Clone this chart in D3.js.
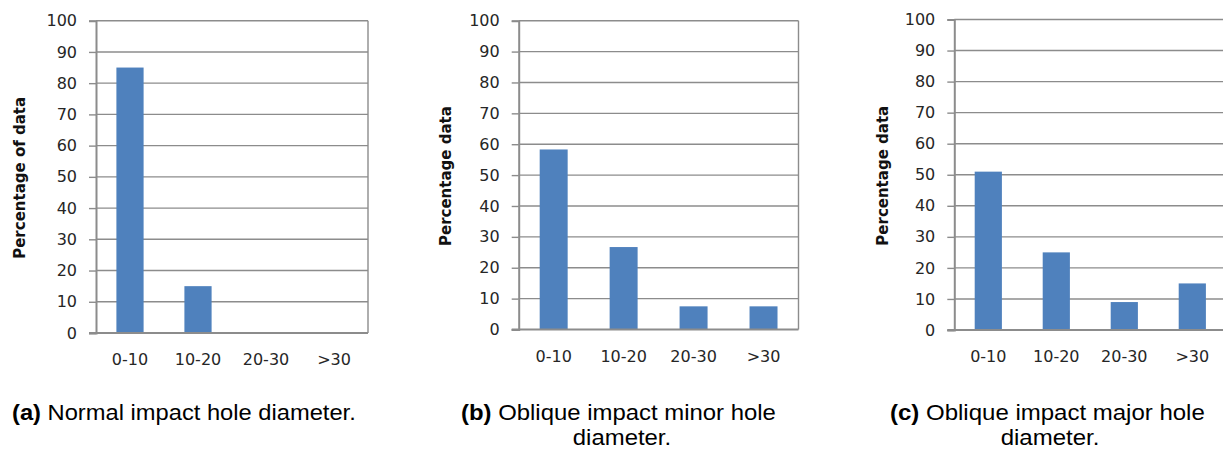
<!DOCTYPE html>
<html>
<head>
<meta charset="utf-8">
<script src="https://cdn.jsdelivr.net/npm/d3@7"></script>
<style>
  html, body { margin: 0; padding: 0; background: #ffffff; }
  svg { display: block; }
</style>
</head>
<body>
<svg id="chart" width="1223" height="452"></svg>
<script>
// ---------- data ----------
const categories = ["0-10", "10-20", "20-30", ">30"];
const normalHoleValues = [85, 15, 0, 0];
const obliqueMinorValues = [58.3, 26.7, 7.5, 7.5];
const obliqueMajorValues = [51, 25, 9, 15];
const yTickValues = [0, 10, 20, 30, 40, 50, 60, 70, 80, 90, 100];
const yTitles = ["Percentage of data", "Percentage data", "Percentage data"];
const captionTags = ["(a)", "(b)", "(c)"];
const captionLine1 = [" Normal impact hole diameter.", " Oblique impact minor hole", " Oblique impact major hole"];
const captionLine2 = ["", "diameter.", "diameter."];

// ---------- layout ----------
const panels = [
  { values: normalHoleValues, x0: 96,    x1: 368,    yTop: 20.7, yZero: 333,   titleX: 20,
    cap: { x1: 12,  x2: 356,  cx2: 184 } },
  { values: obliqueMinorValues, x0: 518.7, x1: 798.5, yTop: 20.7, yZero: 329.5, titleX: 446,
    cap: { x1: 461, x2: 776,  cx2: 622 } },
  { values: obliqueMajorValues, x0: 954.3, x1: 1226.3, yTop: 19.5, yZero: 330,  titleX: 882.5,
    cap: { x1: 890, x2: 1205, cx2: 1050 } }
];

const svg = d3.select("#chart");
const gridColor = "#8c8c8c";
const barColor = "#4f81bd";
const tickFont = "'DejaVu Sans', sans-serif";

panels.forEach((p, i) => {
  const g = svg.append("g");
  const x = d3.scaleBand().domain(categories).range([p.x0, p.x1])
    .paddingInner(0.6).paddingOuter(0.3);
  const y = d3.scaleLinear().domain([0, 100]).range([p.yZero, p.yTop]);

  // gridlines
  g.append("g").selectAll("line").data(yTickValues.filter(v => v > 0)).join("line")
    .attr("x1", p.x0).attr("x2", p.x1)
    .attr("y1", d => y(d)).attr("y2", d => y(d))
    .attr("stroke", gridColor).attr("stroke-width", 1.4);

  // right border
  g.append("line").attr("x1", p.x1).attr("x2", p.x1)
    .attr("y1", y(100)).attr("y2", y(0))
    .attr("stroke", gridColor).attr("stroke-width", 1.4);

  // bars
  g.append("g").selectAll("rect").data(categories).join("rect")
    .attr("x", d => x(d))
    .attr("width", x.bandwidth())
    .attr("y", (d, k) => y(p.values[k]))
    .attr("height", (d, k) => y(0) - y(p.values[k]))
    .attr("fill", barColor);

  // y axis
  const yAxis = d3.axisLeft(y).tickValues(yTickValues).tickSize(7).tickPadding(12)
    .tickFormat(d3.format("d"));
  const ya = g.append("g").attr("transform", `translate(${p.x0},0)`).call(yAxis);
  ya.select(".domain").attr("stroke", gridColor).attr("stroke-width", 2);
  ya.selectAll(".tick line").attr("stroke", gridColor).attr("stroke-width", 1.4);
  ya.selectAll(".tick text").attr("font-family", tickFont).attr("font-size", 16)
    .attr("fill", "#262626");

  // x axis
  const xAxis = d3.axisBottom(x).tickSize(0).tickPadding(21);
  const xa = g.append("g").attr("transform", `translate(0,${p.yZero})`).call(xAxis);
  xa.select(".domain").attr("d", `M${p.x0 - 7},0H${p.x1}`)
    .attr("stroke", gridColor).attr("stroke-width", 2);
  xa.selectAll(".tick text").attr("font-family", tickFont).attr("font-size", 16)
    .attr("fill", "#262626");

  // y title
  g.append("text")
    .attr("transform", `translate(${p.titleX},${(p.yTop + p.yZero) / 2 + 1}) rotate(-90)`)
    .attr("text-anchor", "middle").attr("dominant-baseline", "central")
    .attr("font-family", "'DejaVu Sans', sans-serif").attr("font-weight", "bold")
    .attr("font-size", 15).attr("fill", "#111111")
    .text(yTitles[i]);

  // captions
  const capFont = "'Liberation Sans Narrow', 'Liberation Sans', Arial, sans-serif";
  const c1 = svg.append("text").attr("x", p.cap.x1).attr("y", 420)
    .attr("font-family", capFont).attr("font-size", 22).attr("fill", "#000");
  c1.append("tspan").attr("font-weight", "bold").text(captionTags[i]);
  c1.append("tspan").text(captionLine1[i]);
  const w1 = c1.node().getComputedTextLength();
  const sx = (p.cap.x2 - p.cap.x1) / w1;
  c1.attr("transform", `translate(${p.cap.x1},0) scale(${sx},1) translate(${-p.cap.x1},0)`);

  if (captionLine2[i]) {
    svg.append("text").attr("x", p.cap.cx2).attr("y", 445)
      .attr("text-anchor", "middle")
      .attr("font-family", capFont).attr("font-size", 22).attr("fill", "#000")
      .attr("transform", `translate(${p.cap.cx2},0) scale(${sx},1) translate(${-p.cap.cx2},0)`)
      .text(captionLine2[i]);
  }
});
</script>
</body>
</html>
